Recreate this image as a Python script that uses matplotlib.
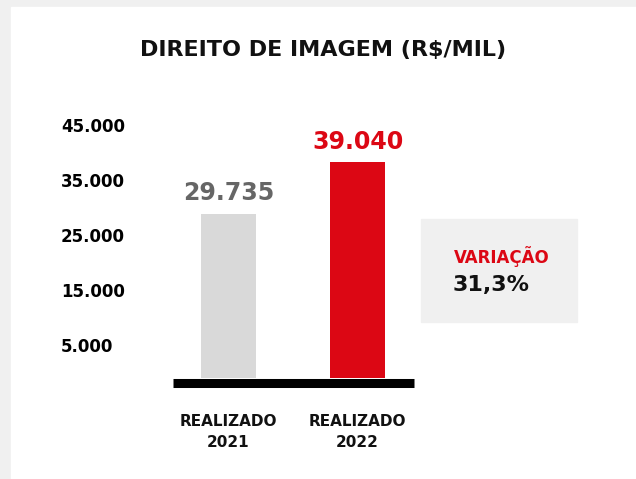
import matplotlib.pyplot as plt
from matplotlib.patches import Rectangle
from matplotlib.transforms import ScaledTranslation

# dados
categorias = ["REALIZADO\n2021", "REALIZADO\n2022"]
valores = [29735, 39040]
cores = ["#d9d9d9", "#dc0714"]
cores_rotulo = ["#666666", "#dc0714"]
ticks_y = [5000, 15000, 25000, 35000, 45000]
variacao = "31,3%"

W, H = 636, 479
fig = plt.figure(figsize=(W / 100, H / 100), dpi=100)
fig.patch.set_facecolor("#f0f0f0")

# painel branco
fig.patches.append(Rectangle((11 / W, 0), 1 - 11 / W, 1 - 7 / H,
                             transform=fig.transFigure, color="white", zorder=-2))

fig.text(323 / W, 1 - 50 / H, "DIREITO DE IMAGEM (R$/MIL)", ha="center", va="center",
         fontsize=16, fontweight="bold", color="#111111")

# eixo: x 172.7 -> 414 px, y zero em 378 px
esc = 0.00552
y0, y1 = 378, 100
ax = fig.add_axes([172.7 / W, 1 - y0 / H, (414 - 172.7) / W, (y0 - y1) / H])
ax.set_facecolor("none")

x = range(len(valores))
barras = ax.bar(x, valores, width=0.426, color=cores, zorder=2)
ax.set_xlim(-0.433, 1.438)
ax.set_ylim(0, (y0 - y1) / esc)

for b, v, c in zip(barras, valores, cores_rotulo):
    ax.annotate(f"{v:,}".replace(",", "."), (b.get_x() + b.get_width() / 2, v),
                xytext=(0, 6.3), textcoords="offset points", ha="center", va="bottom",
                fontsize=17, fontweight="bold", color=c)

for s in ["top", "right", "left"]:
    ax.spines[s].set_visible(False)
ax.spines["bottom"].set_linewidth(6.5)
ax.spines["bottom"].set_color("black")
ax.spines["bottom"].set_capstyle("butt")
ax.spines["bottom"].set_position(("outward", 3.25))

ax.set_yticks(ticks_y, [f"{t:,}".replace(",", ".") for t in ticks_y])
ax.tick_params(axis="y", length=0, pad=80.4, labelsize=12)
desloc = ScaledTranslation(0, 5 / 100, fig.dpi_scale_trans)
for t in ax.yaxis.get_major_ticks():
    t.label1.set_transform(t.label1.get_transform() + desloc)
for lb in ax.get_yticklabels():
    lb.set_ha("left")
    lb.set_fontweight("bold")

ax.set_xticks(list(x), categorias)
ax.tick_params(axis="x", length=0, pad=23, labelsize=11)
for lb in ax.get_xticklabels():
    lb.set_fontweight("bold")
    lb.set_linespacing(1.5)
    lb.set_color("#111111")

# caixa de variação
fig.patches.append(Rectangle((421 / W, 1 - 322 / H), (577 - 421) / W, (322 - 219) / H,
                             transform=fig.transFigure, color="#f0f0f0", zorder=-1))
fig.text(454 / W, 1 - 257 / H, "VARIAÇÃO", ha="left", va="center",
         fontsize=12, fontweight="bold", color="#dc0714")
fig.text(453 / W, 1 - 285.5 / H, variacao, ha="left", va="center",
         fontsize=16, fontweight="bold", color="#111111")

fig.savefig("out.png", dpi=100)
